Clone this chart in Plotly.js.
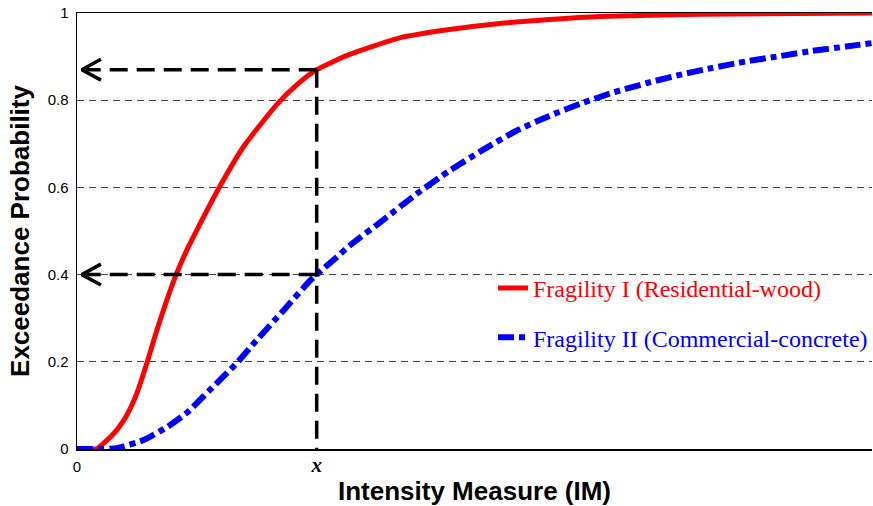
<!DOCTYPE html>
<html>
<head>
<meta charset="utf-8">
<script src="https://cdn.plot.ly/plotly-3.0.1.min.js"></script>
<style>html,body{margin:0;padding:0;background:#fff;}#chart{width:873px;height:506px;}</style>
</head>
<body>
<div id="chart"></div>
<script>
// Intensity measure (arbitrary units) and exceedance probabilities
const redX = [0, 0.25, 0.34, 0.5, 0.625, 0.75, 0.875, 1.0, 1.125, 1.25, 1.375, 1.5, 1.79, 2.09, 2.5, 2.75, 3.0, 3.41, 4.04, 4.66, 5.29, 5.91, 6.54, 7.79, 9.95];
const redY = [0, 0.001, 0.014, 0.044, 0.078, 0.128, 0.197, 0.273, 0.342, 0.404, 0.456, 0.502, 0.603, 0.695, 0.79, 0.835, 0.87, 0.905, 0.943, 0.962, 0.976, 0.985, 0.992, 0.997, 1.0];
const blueX = [0, 0.5, 0.84, 1.125, 1.375, 1.66, 2.0, 2.25, 2.59, 2.91, 3.0, 3.25, 3.41, 3.83, 4.25, 4.66, 5.08, 5.5, 5.91, 6.33, 6.7, 7.125, 7.54, 7.95, 8.375, 8.79, 9.2, 9.625, 9.95];
const blueY = [0, 0.002, 0.021, 0.05, 0.083, 0.135, 0.197, 0.25, 0.319, 0.385, 0.4, 0.44, 0.466, 0.525, 0.585, 0.638, 0.686, 0.73, 0.764, 0.794, 0.817, 0.839, 0.858, 0.874, 0.889, 0.901, 0.913, 0.923, 0.931];
const seriesNames = ['Fragility I (Residential-wood)', 'Fragility II (Commercial-concrete)'];
const yTickVals = [0, 0.2, 0.4, 0.6, 0.8, 1];
const yTickText = ['0', '0.2', '0.4', '0.6', '0.8', '1'];
const xTickVals = [0, 3];
const xTickText = ['0', 'x'];
// read-off construction: IM value x and the two probabilities
const xMark = 3;
const pReadoffs = [0.87, 0.4];

const xMax = 9.95;
const arrowTip = 0.06, arrowArm = 0.30, arrowHalf = 0.024;

const traces = [
  {x: redX, y: redY, name: '<span style="color:#ff0000">' + seriesNames[0] + '</span>', mode: 'lines',
   line: {color: '#ff0000', width: 5, shape: 'spline', smoothing: 0.5}, legendgroup: 'a'},
  {x: blueX, y: blueY, name: '<span style="color:#0000ff">' + seriesNames[1] + '</span>', mode: 'lines',
   line: {color: '#0000ff', width: 6, dash: '16px,5px,6px,5px', shape: 'spline', smoothing: 0.5}, legendgroup: 'b'}
];
// arrowheads
const ahx = [], ahy = [];
pReadoffs.forEach(p => { ahx.push(arrowArm, arrowTip, arrowArm, null); ahy.push(p + arrowHalf, p, p - arrowHalf, null); });
traces.push({x: ahx, y: ahy, mode: 'lines', line: {color: '#000', width: 3.5}, showlegend: false, hoverinfo: 'skip'});

const shapes = [];
pReadoffs.forEach(p => {
  shapes.push({type: 'line', xref: 'x', yref: 'y', x0: xMark, y0: p, x1: arrowTip + 0.05, y1: p,
               line: {color: '#000', width: 3.5, dash: '18px,9px'}});
});
shapes.push({type: 'line', xref: 'x', yref: 'y', x0: xMark, y0: Math.max(...pReadoffs), x1: xMark, y1: 0,
             line: {color: '#000', width: 3.5, dash: '18px,9px'}});

const sans = 'Liberation Sans, Arial, sans-serif';
const serif = 'Liberation Serif, Times New Roman, serif';

const layout = {
  width: 873, height: 506,
  margin: {l: 77, r: 0, t: 13, b: 57, pad: 0},
  paper_bgcolor: '#fff', plot_bgcolor: '#fff',
  showlegend: true,
  legend: {x: 0.523, y: 0.42, xanchor: 'left', yanchor: 'top', bgcolor: 'rgba(0,0,0,0)',
           font: {family: serif, size: 24, color: '#000'}, traceorder: 'grouped', tracegroupgap: 15},
  xaxis: {range: [0, xMax], tickvals: xTickVals,
          ticktext: [xTickText[0], '<span style="font-family:Liberation Serif, Times New Roman, serif;font-size:21px"><b><i>' + xTickText[1] + '</i></b></span>'],
          showgrid: false, zeroline: false, showline: true, mirror: true, linecolor: '#000', linewidth: 1.5,
          ticks: '', ticklabelstandoff: 3, tickfont: {family: sans, size: 15, color: '#000'},
          title: {text: '<b>Intensity Measure (IM)</b>', font: {family: sans, size: 26, color: '#000'}, standoff: 8},
          fixedrange: true},
  yaxis: {range: [0, 1], tickvals: yTickVals, ticktext: yTickText,
          showgrid: true, gridcolor: '#444', gridwidth: 1, griddash: '7px,5px',
          zeroline: false, showline: true, linecolor: '#000', linewidth: 1.5,
          ticks: '', ticklabelstandoff: 4, tickfont: {family: sans, size: 15, color: '#000'},
          title: {text: '<b>Exceedance Probability</b>', font: {family: sans, size: 26, color: '#000'}, standoff: 10},
          fixedrange: true},
  shapes: shapes
};

Plotly.newPlot('chart', traces, layout, {displayModeBar: false, staticPlot: true});
</script>
</body>
</html>
